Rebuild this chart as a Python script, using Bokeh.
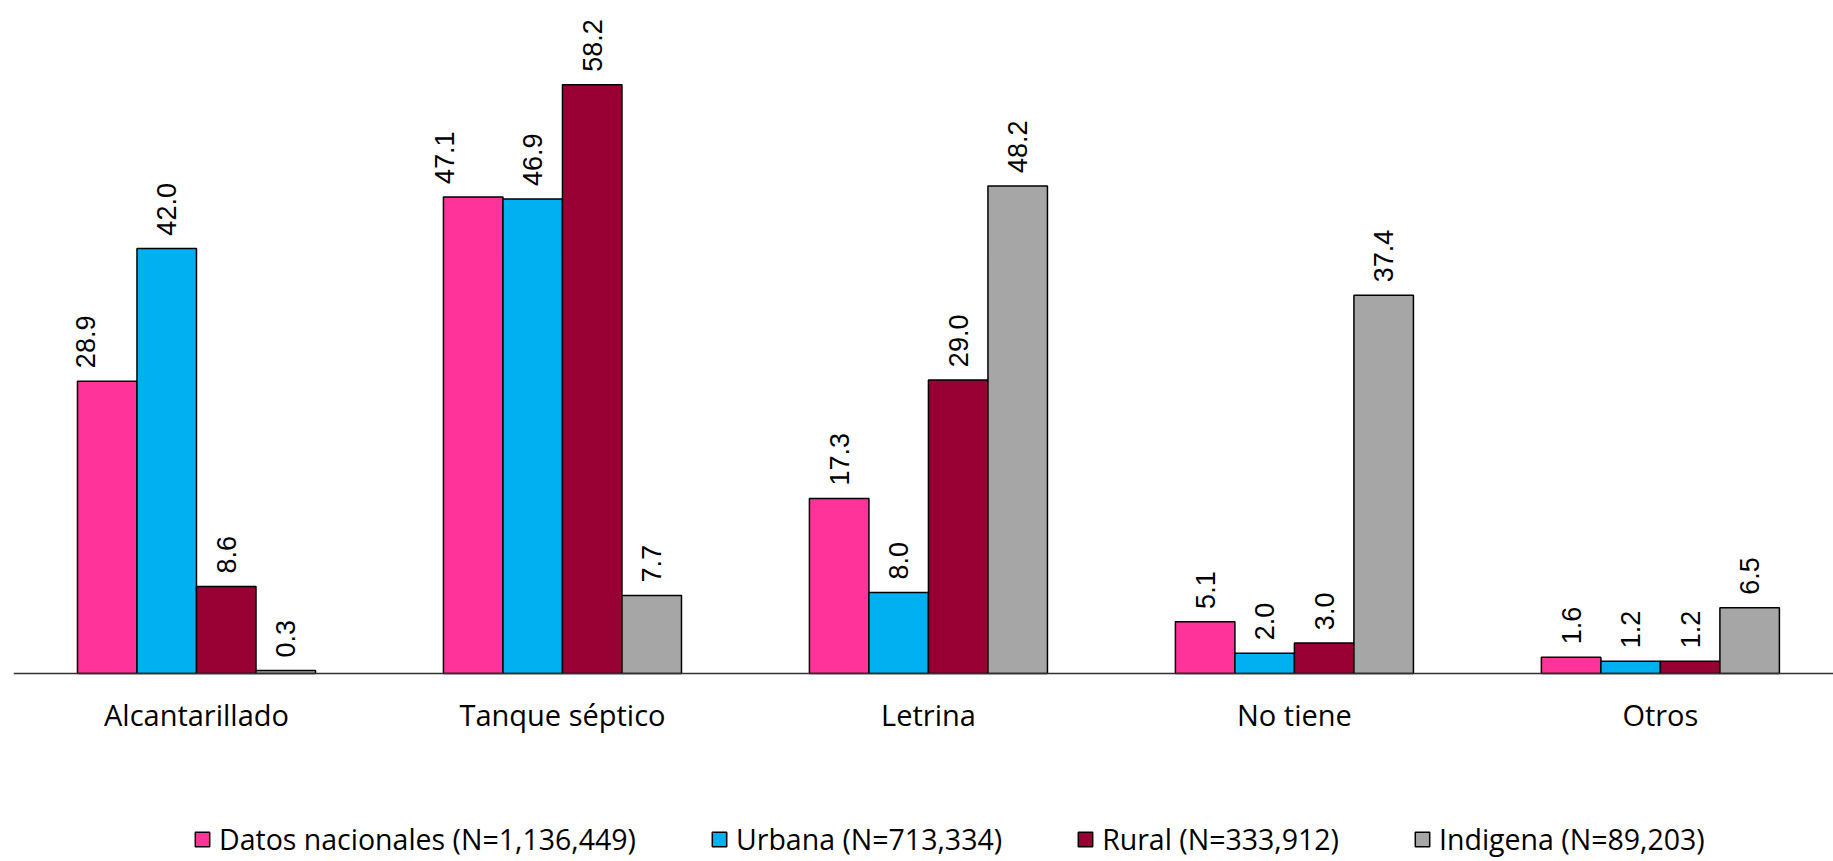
from bokeh.plotting import figure
from bokeh.models import (ColumnDataSource, Range1d, FixedTicker, LabelSet,
                          Legend, LegendItem)
from bokeh.core.properties import value
from bokeh.transform import dodge
from bokeh.embed import file_html
from bokeh.resources import INLINE
import math

# Sanitation facility by area of residence (%)
categories = ["Alcantarillado", "Tanque séptico", "Letrina", "No tiene", "Otros"]
series_names = ["Datos nacionales (N=1,136,449)", "Urbana (N=713,334)",
                "Rural (N=333,912)", "Indigena (N=89,203)"]
nacional = [28.9, 47.1, 17.3, 5.1, 1.6]
urbana = [42.0, 46.9, 8.0, 2.0, 1.2]
rural = [8.6, 58.2, 29.0, 3.0, 1.2]
indigena = [0.3, 7.7, 48.2, 37.4, 6.5]

series_values = [nacional, urbana, rural, indigena]
colors = ["#FF3399", "#00B0F0", "#990033", "#A6A6A6"]

BAR_W = 0.1626
offsets = [-1.5 * BAR_W, -0.5 * BAR_W, 0.5 * BAR_W, 1.5 * BAR_W]
# a couple of labels sit slightly left of their bars
label_nudge = {(0, 0): -22, (1, 0): -29}

W, H = 1833, 861
# the frame covers the whole page; the category axis is pinned at y = 0
p = figure(width=W, height=H, output_backend="svg", toolbar_location=None,
           x_range=Range1d(-0.5, 4.473), y_range=Range1d(-18.59, 66.53),
           min_border_left=13, min_border_right=0, min_border_top=0,
           min_border_bottom=0)
p.outline_line_color = None
p.background_fill_color = "white"
p.border_fill_color = "white"
p.xgrid.visible = False
p.ygrid.visible = False
p.yaxis.visible = False

xax = p.xaxis[0]
xax.fixed_location = 0
xax.ticker = FixedTicker(ticks=list(range(len(categories))))
xax.major_label_overrides = {i: c for i, c in enumerate(categories)}
xax.major_tick_line_color = None
xax.minor_tick_line_color = None
xax.axis_line_color = "#303030"
xax.axis_line_width = 1.5
xax.major_label_text_font = "Open Sans"
xax.major_label_text_font_size = "29px"
xax.major_label_text_color = "#000000"
xax.major_label_standoff = 16

items = []
for si, (name, vals, col) in enumerate(zip(series_names, series_values, colors)):
    src = ColumnDataSource(dict(
        x=list(range(len(categories))),
        top=vals,
        label=[f"{v:.1f}" for v in vals],
        nudge=[label_nudge.get((ci, si), 0) for ci in range(len(categories))],
    ))
    r = p.vbar(x=dodge("x", offsets[si]), top="top", bottom=0, width=BAR_W,
               source=src, fill_color=col, line_color="#000000", line_width=1.5)
    items.append(LegendItem(label=name, renderers=[r]))
    lab = LabelSet(x=dodge("x", offsets[si]), y="top", text="label", source=src,
                   angle=math.pi / 2, text_align="left", text_baseline="middle",
                   x_offset="nudge", y_offset=13,
                   text_font=value("Liberation Sans"), text_font_size="27px",
                   text_color="#000000")
    p.add_layout(lab)

legend = Legend(items=items, orientation="horizontal", location=(180, 3),
                glyph_width=18, glyph_height=18, label_standoff=8, spacing=74,
                padding=0, margin=0, border_line_alpha=0,
                background_fill_alpha=0,
                label_text_font="Open Sans", label_text_font_size="28.5px",
                label_text_color="#000000")
p.add_layout(legend, "center")

open("out.html", "w").write(file_html(p, INLINE))
